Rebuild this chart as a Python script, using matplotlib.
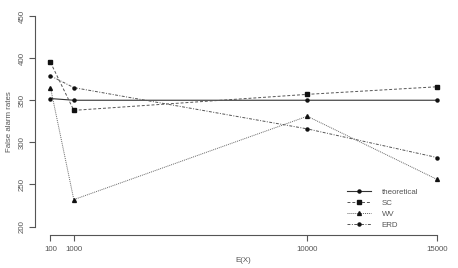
import matplotlib
matplotlib.use("Agg")
import matplotlib.pyplot as plt

ex = [100, 1000, 10000, 15000]
theoretical = [352, 350, 350, 350]
sc = [395, 338, 357, 366]
wv = [365, 232, 331, 256]
erd = [379, 365, 316, 282]

plt.rcParams["font.family"] = ["Liberation Sans", "DejaVu Sans"]
txt = "#555555"

fig = plt.figure(figsize=(4.58, 2.68), dpi=100)
ax = fig.add_axes([35 / 458, 1 - 235 / 268, (452.5 - 35) / 458, (235 - 7.6) / 268])

ax.plot(ex, theoretical, color="#333333", lw=0.8, ls="-", marker="o", ms=2.2,
        mfc="#111111", mec="#111111", label="theoretical")
ax.plot(ex, sc, color="#555555", lw=0.7, ls=(0, (3, 2)), marker="s", ms=2.8,
        mfc="#111111", mec="#111111", label="SC")
ax.plot(ex, wv, color="#666666", lw=0.7, ls=(0, (1, 1)), marker="^", ms=2.8,
        mfc="#111111", mec="#111111", label="WV")
ax.plot(ex, erd, color="#555555", lw=0.7, ls=(0, (3, 1.5, 1, 1.5)), marker="o", ms=2.2,
        mfc="#111111", mec="#111111", label="ERD")

pad_x = (15000 - 100) * 0.04
ax.set_xlim(100 - pad_x, 15000 + pad_x)
ax.set_ylim(200 - 10, 450 + 10)

for s in ["top", "right"]:
    ax.spines[s].set_visible(False)
ax.spines["left"].set_bounds(200, 450)
ax.spines["bottom"].set_bounds(100, 15000)
for s in ["left", "bottom"]:
    ax.spines[s].set_color("#555555")
    ax.spines[s].set_linewidth(0.8)

ax.set_xticks(ex)
ax.set_xticklabels(["100", "1000", "10000", "15000"])
ax.set_yticks([200, 250, 300, 350, 400, 450])
ax.tick_params(axis="both", direction="out", length=4, width=0.8, color="#555555",
               labelsize=5.7, labelcolor=txt)
ax.tick_params(axis="x", pad=4)
ax.tick_params(axis="y", pad=2.5)
for lab in ax.get_yticklabels():
    lab.set_rotation(90)
    lab.set_va("center")

ax.set_xlabel("E(X)", fontsize=5.7, color=txt, labelpad=3)
ax.set_ylabel("False alarm rates", fontsize=5.7, color=txt, labelpad=4)

leg = ax.legend(loc="lower right", bbox_to_anchor=(0.935, -0.005), frameon=False,
                fontsize=5.7, handlelength=3.0, handletextpad=1.4,
                labelspacing=0.45, numpoints=1)
for t in leg.get_texts():
    t.set_color(txt)

fig.savefig("out.png", dpi=100)
